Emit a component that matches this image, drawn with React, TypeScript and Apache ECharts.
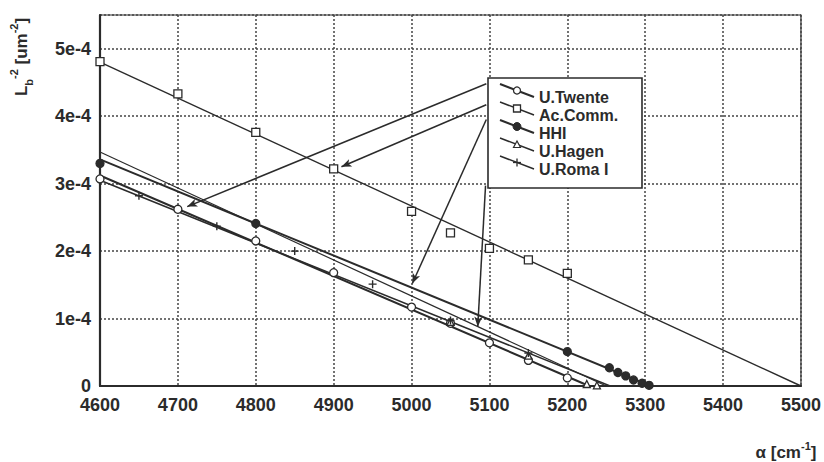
import React, { useEffect, useRef } from "react";
import * as echarts from "echarts";

// ---- data ----
const xTicks = [4600, 4700, 4800, 4900, 5000, 5100, 5200, 5300, 5400, 5500];

const legendNames = ["U.Twente", "Ac.Comm.", "HHI", "U.Hagen", "U.Roma I"];

const twentePts = [
  [4600, 3.07e-4], [4700, 2.62e-4], [4800, 2.15e-4], [4900, 1.68e-4], [5000, 1.17e-4],
  [5050, 0.93e-4], [5100, 0.64e-4], [5150, 0.38e-4], [5200, 0.12e-4],
];
const acCommPts = [
  [4600, 4.81e-4], [4700, 4.33e-4], [4800, 3.76e-4], [4900, 3.22e-4], [5000, 2.59e-4],
  [5050, 2.27e-4], [5100, 2.04e-4], [5150, 1.87e-4], [5200, 1.67e-4],
];
const hhiPts = [
  [4600, 3.3e-4], [4800, 2.41e-4], [5200, 0.51e-4], [5254, 0.27e-4], [5265, 0.2e-4],
  [5275, 0.15e-4], [5285, 0.09e-4], [5296, 0.04e-4], [5305, 0.01e-4],
];
const hagenPts = [
  [5050, 0.95e-4], [5150, 0.45e-4], [5225, 0.03e-4], [5238, 0.01e-4],
];
const romaPts = [
  [4650, 2.82e-4], [4750, 2.37e-4], [4850, 2.0e-4], [4950, 1.51e-4], [5050, 0.97e-4], [5150, 0.49e-4],
];

// fitted straight lines (end points)
const twenteFit = [[4600, 3.12e-4], [5228, 0]];
const acCommFit = [[4600, 4.8e-4], [5500, 0]];
const hhiFit = [[4600, 3.36e-4], [5307, 0]];
const hagenFit = [[4600, 3.47e-4], [5250, 0]];
const romaFit = [[4600, 3.05e-4], [5255, 0]];

// annotation arrows: [start, end] in data coordinates
const arrows = [
  [[5096, 4.48e-4], [4712, 2.66e-4]],
  [[5096, 4.17e-4], [4910, 3.25e-4]],
  [[5096, 3.95e-4], [5001, 1.52e-4]],
  [[5095, 2.97e-4], [5085, 0.88e-4]],
];

const INK = "#2b2b2b";
const FONT = "'Liberation Sans', Arial, sans-serif";
const PLUS = "path://M0,5 L10,5 M5,0 L5,10";

export default function App() {
  const ref = useRef<HTMLDivElement>(null);

  useEffect(() => {
    if (!ref.current) return;
    const chart = echarts.init(ref.current, undefined, { renderer: "svg" });

    const fitLine = (name: string, data: number[][], width: number) => ({
      name: name + " fit",
      type: "line",
      data,
      symbol: "none",
      silent: true,
      lineStyle: { color: INK, width },
      z: 2,
    });
    const pts = (name: string, data: number[][], symbol: string, size: number, fill: string, bw = 1.3) => ({
      name,
      type: "scatter",
      data,
      symbol,
      symbolSize: size,
      itemStyle: { color: fill, borderColor: INK, borderWidth: bw, opacity: 1 },
      z: 3,
    });

    // legend graphic
    const LX = 488, LY = 78, LW = 154, LH = 110;
    const rowY = [97, 115, 133, 151, 169];
    const legendEls: any[] = [
      { type: "rect", shape: { x: LX, y: LY, width: LW, height: LH }, style: { fill: "#fff", stroke: INK, lineWidth: 1.6 }, z: 10 },
    ];
    legendNames.forEach((n, i) => {
      const c = rowY[i];
      const x1 = 500, y1 = c - 13, x2 = 534, y2 = c;
      const mx = (x1 + x2) / 2, my = (y1 + y2) / 2;
      legendEls.push({ type: "line", shape: { x1, y1, x2, y2 }, style: { stroke: INK, lineWidth: i === 2 || i === 0 ? 2 : 1.5 }, z: 11 });
      if (i === 0) legendEls.push({ type: "circle", shape: { cx: mx, cy: my, r: 3.5 }, style: { fill: "#fff", stroke: INK, lineWidth: 1.3 }, z: 12 });
      if (i === 1) legendEls.push({ type: "rect", shape: { x: mx - 3.5, y: my - 3.5, width: 7, height: 7 }, style: { fill: "#fff", stroke: INK, lineWidth: 1.3 }, z: 12 });
      if (i === 2) legendEls.push({ type: "circle", shape: { cx: mx, cy: my, r: 4 }, style: { fill: INK, stroke: INK, lineWidth: 1 }, z: 12 });
      if (i === 3) legendEls.push({ type: "polygon", shape: { points: [[mx, my - 3.5], [mx + 3.5, my + 3], [mx - 3.5, my + 3]] }, style: { fill: "#fff", stroke: INK, lineWidth: 1.2 }, z: 12 });
      if (i === 4) {
        legendEls.push({ type: "line", shape: { x1: mx - 4, y1: my, x2: mx + 4, y2: my }, style: { stroke: INK, lineWidth: 1.3 }, z: 12 });
        legendEls.push({ type: "line", shape: { x1: mx, y1: my - 4, x2: mx, y2: my + 4 }, style: { stroke: INK, lineWidth: 1.3 }, z: 12 });
      }
      legendEls.push({
        type: "text", x: 539, y: c, z: 12,
        style: { text: n, fill: INK, font: `bold 16px ${FONT}`, align: "left", verticalAlign: "middle" },
      });
    });

    const option: any = {
      animation: false,
      backgroundColor: "#fff",
      grid: { left: 100, right: 22, top: 15, bottom: 76, show: true, borderColor: INK, borderWidth: 1.2 },
      xAxis: {
        type: "value",
        min: xTicks[0],
        max: xTicks[xTicks.length - 1],
        interval: 100,
        axisLine: { show: true, lineStyle: { color: INK, width: 2.2 } },
        axisTick: { show: false },
        axisLabel: {
          color: INK, fontFamily: FONT, fontWeight: "bold", fontSize: 18, margin: 10,
          formatter: (v: number) => String(Math.round(v)),
        },
        splitLine: { show: true, lineStyle: { color: "#444", width: 1.5, type: [2, 2] } },
      },
      yAxis: {
        type: "value",
        min: 0,
        max: 5.5e-4,
        interval: 1e-4,
        axisLine: { show: true, lineStyle: { color: INK, width: 2.2 } },
        axisTick: { show: false },
        axisLabel: {
          color: INK, fontFamily: FONT, fontWeight: "bold", fontSize: 18, margin: 9,
          showMaxLabel: false,
          formatter: (v: number) => {
            const k = Math.round(v * 1e4);
            return k === 0 ? "0" : `${k}e-4`;
          },
        },
        splitLine: { show: true, lineStyle: { color: "#444", width: 1.5, type: [2, 2] } },
      },
      series: [
        fitLine("Ac.Comm.", acCommFit, 1.4),
        fitLine("HHI", hhiFit, 2),
        fitLine("U.Hagen", hagenFit, 1.2),
        fitLine("U.Twente", twenteFit, 2),
        fitLine("U.Roma I", romaFit, 1.5),
        pts("U.Twente", twentePts, "circle", 8, "#fff"),
        pts("Ac.Comm.", acCommPts, "rect", 8, "#fff"),
        pts("HHI", hhiPts, "circle", 8, INK),
        pts("U.Hagen", hagenPts, "triangle", 7, "#fff"),
        pts("U.Roma I", romaPts, PLUS, 8, "none", 1.4),
        {
          name: "arrows",
          type: "line",
          data: [],
          silent: true,
          markLine: {
            silent: true,
            symbol: ["none", "arrow"],
            symbolSize: [6, 10],
            label: { show: false },
            lineStyle: { color: INK, width: 1.5, type: "solid" },
            data: arrows.map(([s, e]) => [{ coord: s }, { coord: e }]),
          },
          z: 5,
        },
      ],
      graphic: [
        ...legendEls,
        {
          type: "text", x: 21, y: 57, rotation: Math.PI / 2, z: 12,
          style: {
            text: "{m|L}{sub|b}{sup|-2}{m| [um}{sup|-2}{m|]}",
            align: "center", verticalAlign: "middle", fill: INK,
            rich: {
              m: { fontFamily: FONT, fontWeight: "bold", fontSize: 17, fill: INK, lineHeight: 26, verticalAlign: "middle" },
              sub: { fontFamily: FONT, fontWeight: "bold", fontSize: 11, fill: INK, lineHeight: 26, verticalAlign: "bottom" },
              sup: { fontFamily: FONT, fontWeight: "bold", fontSize: 11, fill: INK, lineHeight: 26, verticalAlign: "top" },
            },
          },
        },
        {
          type: "text", x: 786, y: 452, z: 12,
          style: {
            text: "{m|α [cm}{sup|-1}{m|]}",
            align: "center", verticalAlign: "middle", fill: INK,
            rich: {
              m: { fontFamily: FONT, fontWeight: "bold", fontSize: 17, fill: INK, lineHeight: 24, verticalAlign: "middle" },
              sup: { fontFamily: FONT, fontWeight: "bold", fontSize: 11, fill: INK, lineHeight: 24, verticalAlign: "top" },
            },
          },
        },
      ],
    };

    chart.setOption(option);
    return () => chart.dispose();
  }, []);

  return <div ref={ref} style={{ width: 824, height: 462, position: "absolute", left: 0, top: 0 }} />;
}
